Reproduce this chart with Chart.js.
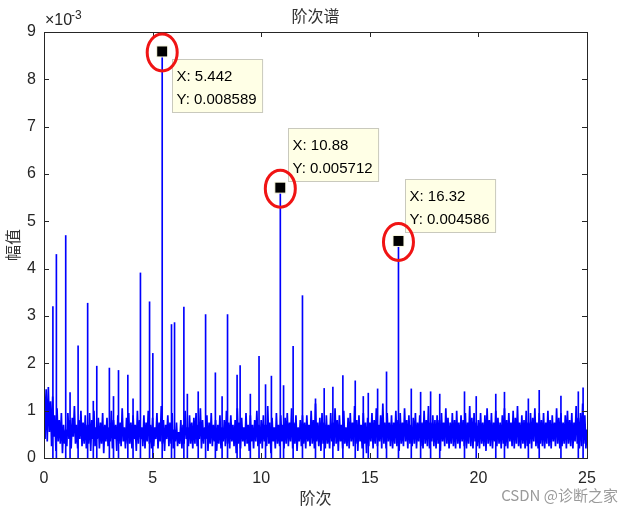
<!DOCTYPE html>
<html>
<head>
<meta charset="utf-8">
<script src="https://cdn.jsdelivr.net/npm/chart.js@4"></script>
<style>
  html, body { margin: 0; padding: 0; background: #fff; }
  #wrap { width: 634px; height: 513px; position: relative; }
</style>
</head>
<body>
<div id="wrap"><canvas id="spec"></canvas></div>
<script>
// amplitude in units of 1e-3, noise floor read every 0.05 order
const ORDER_STEP = 0.05;
const noiseE3 = [
  1.6,0.4,1.45,0.35,1.5,0.55,1.2,0.25,1.3,0.45,0.9,0.15,1.05,0.35,0.8,0.3,0.95,0.1,0.7,0.3,
  0.6,0.25,0.95,0.4,0.8,0.2,0.85,0.45,1.1,0.3,0.7,0.2,0.8,0.4,1.0,0.25,0.75,0.3,0.9,0.2,
  0.7,0.3,0.95,0.15,0.8,0.4,1.0,0.25,0.65,0.4,0.85,0.2,0.75,0.3,0.95,0.1,0.7,0.35,0.85,0.25,
  0.65,0.35,1.0,0.2,0.8,0.4,0.7,0.15,0.9,0.3,0.75,0.25,1.05,0.35,0.65,0.2,0.85,0.3,0.95,0.3,
  0.75,0.2,0.9,0.4,0.7,0.15,1.0,0.3,0.8,0.4,0.65,0.25,0.9,0.2,0.75,0.35,1.0,0.3,0.7,0.2,
  0.85,0.25,0.65,0.4,0.95,0.2,0.75,0.35,1.1,0.3,0.8,0.15,0.7,0.4,0.9,0.25,0.75,0.3,0.95,0.2,
  0.6,0.35,0.75,0.25,0.55,0.3,0.8,0.2,0.7,0.3,1.0,0.4,0.65,0.25,0.9,0.3,0.75,0.2,0.85,0.3,
  0.95,0.25,0.7,0.4,1.05,0.2,0.8,0.3,0.65,0.4,0.9,0.15,0.75,0.3,0.95,0.25,0.7,0.35,0.8,0.15,
  0.7,0.3,0.9,0.2,0.65,0.35,0.8,0.25,1.0,0.3,0.75,0.2,0.9,0.35,0.7,0.25,0.8,0.1,1.05,0.3,
  0.75,0.2,0.85,0.35,0.65,0.25,0.95,0.3,0.7,0.15,0.9,0.35,0.7,0.2,0.8,0.35,1.0,0.25,0.7,0.3,
  0.8,0.2,0.9,0.35,0.7,0.25,1.1,0.3,0.75,0.1,0.85,0.35,0.65,0.2,0.95,0.3,0.7,0.25,0.9,0.35,
  0.7,0.2,0.85,0.3,0.95,0.25,0.75,0.35,1.05,0.2,0.75,0.3,0.9,0.15,0.65,0.35,0.8,0.25,0.9,0.3,
  0.75,0.2,0.9,0.35,0.7,0.25,1.0,0.3,0.8,0.2,1.15,0.35,0.75,0.25,0.85,0.15,0.95,0.3,0.75,0.2,
  0.9,0.3,0.7,0.2,0.95,0.35,0.75,0.25,1.05,0.3,0.8,0.15,0.9,0.35,0.7,0.2,1.0,0.3,0.65,0.25,
  0.85,0.2,0.95,0.35,0.75,0.25,1.1,0.3,0.8,0.15,0.9,0.35,0.7,0.2,0.95,0.3,0.75,0.1,0.85,0.25,
  0.75,0.35,0.95,0.2,0.8,0.3,1.05,0.25,0.7,0.35,0.9,0.2,1.15,0.3,0.75,0.2,0.95,0.35,0.75,0.25,
  0.9,0.2,0.75,0.3,1.0,0.25,0.8,0.15,0.95,0.3,0.75,0.25,1.05,0.35,0.8,0.2,0.9,0.3,0.7,0.25,
  0.85,0.3,0.95,0.2,0.75,0.35,0.9,0.25,0.75,0.2,1.0,0.3,0.8,0.25,1.1,0.2,0.75,0.35,0.9,0.25,
  0.8,0.2,0.9,0.3,0.8,0.15,0.95,0.35,0.75,0.25,1.05,0.3,0.85,0.2,0.75,0.3,0.95,0.25,0.8,0.2,
  1.0,0.3,0.75,0.2,0.9,0.35,0.8,0.25,0.95,0.2,0.75,0.3,1.1,0.25,0.85,0.2,0.95,0.35,0.75,0.25,
  0.8,0.2,0.95,0.3,0.75,0.25,0.9,0.15,1.05,0.3,0.8,0.25,0.95,0.2,0.75,0.35,1.0,0.25,0.85,0.3,
  0.75,0.2,0.9,0.3,1.05,0.25,0.8,0.2,0.95,0.35,0.75,0.25,1.0,0.2,0.85,0.3,1.1,0.25,0.75,0.2,
  0.9,0.3,0.8,0.2,1.0,0.25,0.75,0.3,0.95,0.2,0.85,0.35,1.05,0.25,0.75,0.2,0.95,0.3,0.8,0.25,
  0.95,0.2,0.75,0.3,1.0,0.25,0.8,0.2,0.9,0.35,0.75,0.25,1.05,0.3,0.85,0.2,0.95,0.25,0.75,0.3,
  0.9,0.2,1.0,0.3,0.8,0.25,0.95,0.2,0.75,0.35,1.1,0.3,0.85,0.2,0.95,0.25,1.15,0.3,0.9,0.2,
  0.6
];

// harmonic lines sticking out of the floor: order / amplitude e-3
const spikeOrders = [0.0,0.41,0.57,1.0,1.2,1.57,2.01,2.27,2.43,3.01,3.2,3.43,3.86,4.1,4.44,4.86,5.01,
  5.87,6.01,6.44,6.6,7.1,7.44,7.89,8.2,8.45,8.89,9.03,9.5,9.9,10.2,10.47,11.03,11.47,11.9,
  12.5,12.9,13.3,13.76,14.33,14.7,14.93,15.36,15.77,16.91,17.34,17.8,18.22,19.36,19.9,20.8,
  21.2,22.3,22.8,23.8,24.6,24.82];
const spikeAmpE3 = [4.0,3.2,4.3,4.7,1.38,2.37,3.27,1.2,1.94,1.9,1.3,1.85,1.75,1.25,3.91,3.3,2.21,
  2.82,2.86,3.19,1.35,1.4,3.03,1.8,1.3,3.03,1.75,1.95,1.35,2.15,1.55,1.73,1.53,2.36,3.43,
  1.25,1.47,1.5,1.74,1.63,1.3,1.37,1.46,1.82,1.46,1.39,1.4,1.35,1.4,1.3,1.35,
  1.39,1.25,1.43,1.31,1.4,1.48];

// data tips
const tipOrders = [5.442, 10.88, 16.32];
const tipAmp = [0.008589, 0.005712, 0.004586];
const tipLabels = ["5.442", "10.88", "16.32"];

const xTicks = [0, 5, 10, 15, 20, 25];
const yTicks = [0, 1, 2, 3, 4, 5, 6, 7, 8, 9];

const floorPts = noiseE3.map((v, i) => ({ x: +(i * ORDER_STEP).toFixed(2), y: v }));
const linePts = spikeOrders.map((o, i) => ({ x: o, y: spikeAmpE3[i] }));
tipOrders.forEach((o, i) => linePts.push({ x: o, y: tipAmp[i] * 1000 }));

const TXT = "#262626";
const NUM_FAMILY = "'Liberation Sans', Arial, sans-serif";
const CJK_FONT = "16px 'Noto Sans CJK SC', sans-serif";

const frame = {
  id: "frame",
  afterDraw(chart) {
    const { ctx, chartArea: a, scales } = chart;
    ctx.save();
    ctx.strokeStyle = TXT;
    ctx.lineWidth = 1;
    ctx.strokeRect(a.left + 0.5, a.top + 0.5, a.right - a.left, a.bottom - a.top);
    ctx.beginPath();
    xTicks.forEach(t => {
      const px = Math.round(scales.x.getPixelForValue(t)) + 0.5;
      ctx.moveTo(px, a.bottom); ctx.lineTo(px, a.bottom - 5);
      ctx.moveTo(px, a.top); ctx.lineTo(px, a.top + 5);
    });
    yTicks.forEach(t => {
      const py = Math.round(scales.y.getPixelForValue(t)) + 0.5;
      ctx.moveTo(a.left, py); ctx.lineTo(a.left + 5, py);
      ctx.moveTo(a.right, py); ctx.lineTo(a.right - 5, py);
    });
    ctx.stroke();

    // exponent
    ctx.fillStyle = TXT;
    ctx.font = "16px " + NUM_FAMILY;
    ctx.textAlign = "left";
    ctx.textBaseline = "alphabetic";
    ctx.fillText("\u00d710", a.left + 1, a.top - 7);
    ctx.font = "12px " + NUM_FAMILY;
    ctx.fillText("-3", a.left + 27, a.top - 13);

    // titles
    ctx.fillStyle = "#333";
    ctx.font = CJK_FONT;
    ctx.textAlign = "center";
    ctx.textBaseline = "middle";
    ctx.fillText("阶次谱", (a.left + a.right) / 2, 16);
    ctx.fillText("阶次", (a.left + a.right) / 2, 498);
    ctx.save();
    ctx.translate(13, (a.top + a.bottom) / 2);
    ctx.rotate(-Math.PI / 2);
    ctx.fillText("幅值", 0, 0);
    ctx.restore();

    // data tips
    const offs = [[10, 8], [8, -60], [7, -62]];
    tipOrders.forEach((o, i) => {
      const px = scales.x.getPixelForValue(o);
      const py = scales.y.getPixelForValue(tipAmp[i] * 1000);
      ctx.font = "15px " + NUM_FAMILY;
      const l1 = "X: " + tipLabels[i], l2 = "Y: " + tipAmp[i];
      const w = Math.max(ctx.measureText(l1).width, ctx.measureText(l2).width) + 10;
      const bx = Math.round(px + offs[i][0]) + 0.5, by = Math.round(py + offs[i][1]) + 0.5;
      ctx.fillStyle = "#ffffe6";
      ctx.strokeStyle = "#c9c9bd";
      ctx.fillRect(bx, by, w, 53);
      ctx.strokeRect(bx, by, w, 53);
      ctx.fillStyle = "#000";
      ctx.textAlign = "left";
      ctx.textBaseline = "alphabetic";
      ctx.fillText(l1, bx + 4, by + 21);
      ctx.fillText(l2, bx + 4, by + 44);

      ctx.fillStyle = "#000";
      ctx.strokeStyle = "#ffffe6";
      ctx.fillRect(px - 5.5, py - 5.5, 11, 11);
      ctx.strokeRect(px - 5.5, py - 5.5, 11, 11);

      ctx.beginPath();
      ctx.strokeStyle = "#f01414";
      ctx.lineWidth = 3;
      ctx.ellipse(px, py + 1, 15, 18.5, 0, 0, Math.PI * 2);
      ctx.stroke();
      ctx.lineWidth = 1;
    });

    // watermark
    ctx.fillStyle = "#9a9a9a";
    ctx.font = "15px 'Noto Sans CJK SC', sans-serif";
    ctx.textAlign = "right";
    ctx.textBaseline = "middle";
    ctx.fillText("CSDN @诊断之家", 618, 495);
    ctx.restore();
  }
};

new Chart(document.getElementById("spec"), {
  data: {
    datasets: [{
      type: "line",
      data: floorPts,
      borderColor: "#0000ff",
      borderWidth: 1.7,
      pointRadius: 0,
      tension: 0,
      fill: false,
      order: 2
    }, {
      type: "bar",
      data: linePts,
      backgroundColor: "#0000ff",
      barThickness: 1,
      order: 1
    }]
  },
  options: {
    responsive: true,
    maintainAspectRatio: false,
    animation: false,
    parsing: false,
    layout: { padding: { left: 0, right: 47, top: 32, bottom: 0 } },
    plugins: { legend: { display: false }, tooltip: { enabled: false } },
    scales: {
      x: {
        type: "linear", min: 0, max: 25, offset: false,
        grid: { display: false, drawTicks: false },
        border: { display: false },
        afterFit(s) { s.height = 55; },
        afterBuildTicks(s) { s.ticks = xTicks.map(v => ({ value: v })); },
        ticks: { color: TXT, font: { family: NUM_FAMILY, size: 16 }, padding: 11, maxRotation: 0 }
      },
      y: {
        min: 0, max: 9,
        grid: { display: false, drawTicks: false },
        border: { display: false },
        afterFit(s) { s.width = 44; },
        afterBuildTicks(s) { s.ticks = yTicks.map(v => ({ value: v })); },
        ticks: { color: TXT, font: { family: NUM_FAMILY, size: 16 }, padding: 8 }
      }
    }
  },
  plugins: [frame]
});
</script>
</body>
</html>
